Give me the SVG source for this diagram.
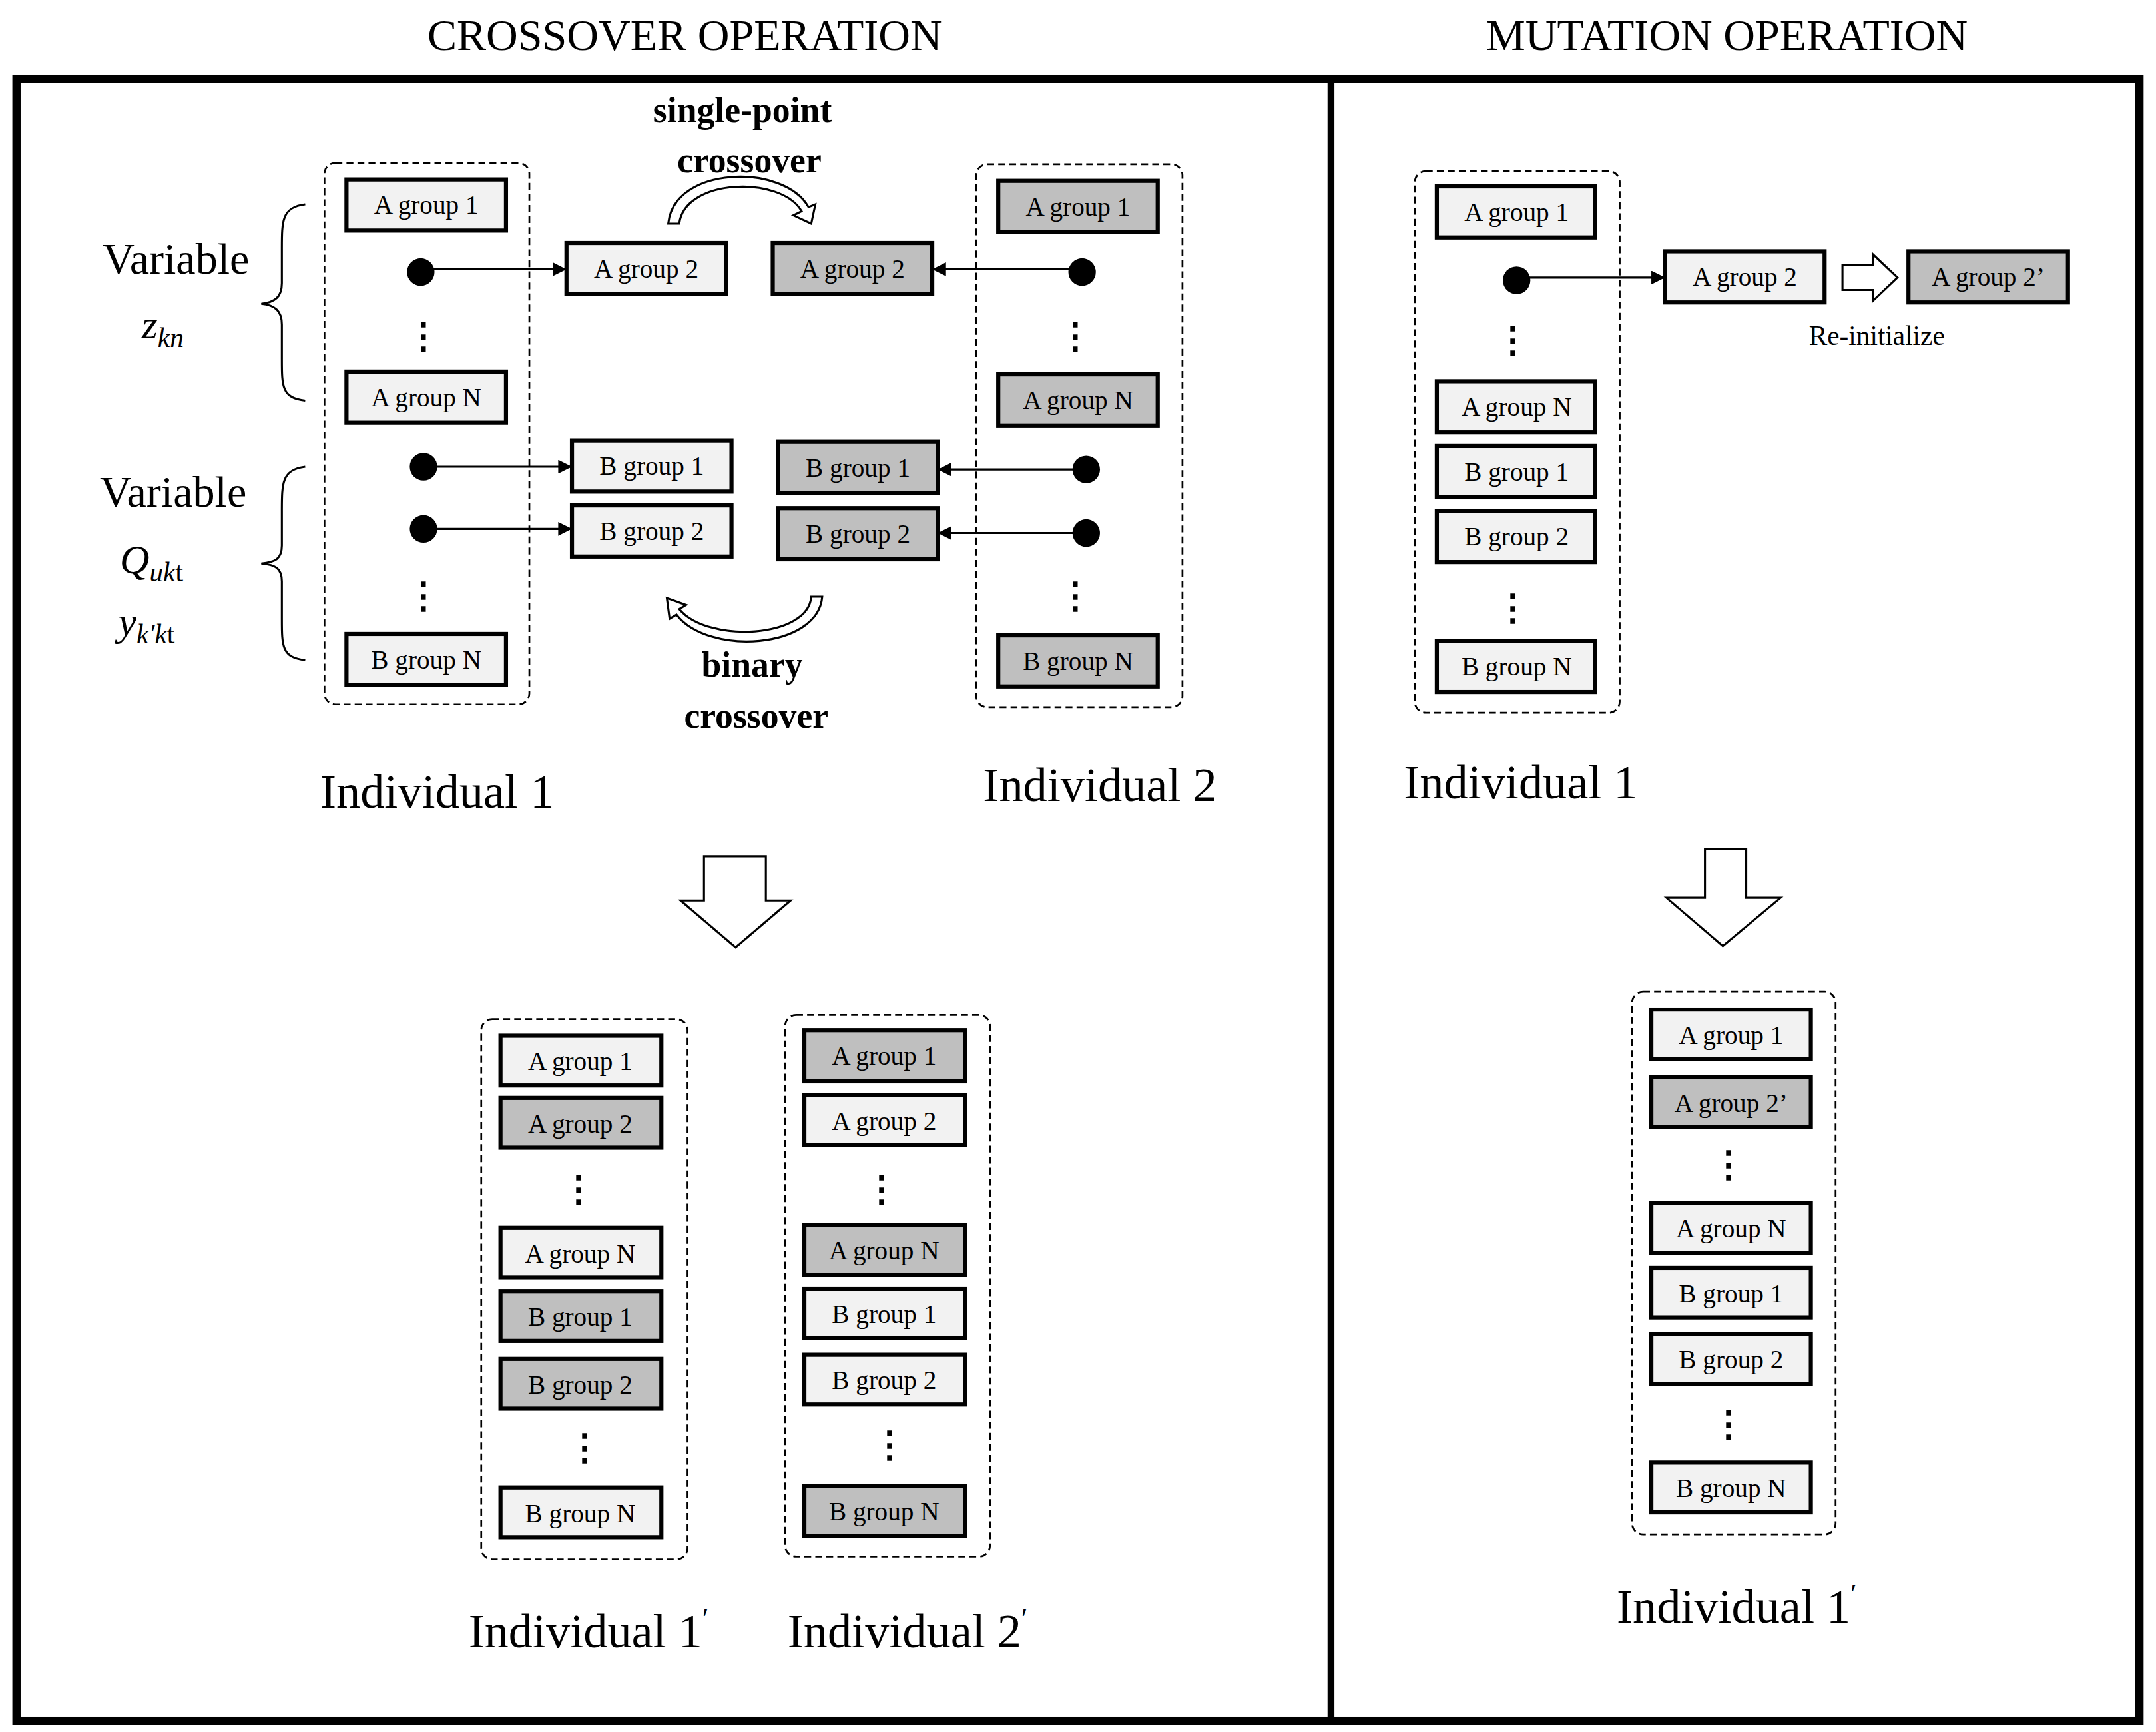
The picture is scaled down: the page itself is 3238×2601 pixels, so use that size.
<svg xmlns="http://www.w3.org/2000/svg" width="3238" height="2601" viewBox="0 0 3238 2601">
<defs>
<style>
text{font-family:"Liberation Serif","Times New Roman",serif;fill:#000}
.t{font-size:32px;text-anchor:middle}
.bt{font-size:19px;text-anchor:middle}
.b{font-size:26px;font-weight:bold;text-anchor:middle}
.ind{font-size:35px;text-anchor:middle}
.var{font-size:32px;text-anchor:middle}
.math{font-size:30px;font-style:italic}
.sub{font-size:20px;font-style:italic}
.l{fill:#f2f2f2;stroke:#000;stroke-width:3}
.d{fill:#bfbfbf;stroke:#000;stroke-width:3}
.dash{fill:none;stroke:#000;stroke-width:1.3;stroke-dasharray:5 3}
.c{stroke:#000;stroke-width:1.5;fill:none}
.hollow{fill:#fff;stroke:#000;stroke-width:1.5}
</style>
<marker id="ah" viewBox="0 0 10 10" refX="10" refY="5" markerWidth="10" markerHeight="10" markerUnits="userSpaceOnUse" orient="auto"><path d="M0,0L10,5L0,10z" fill="#000"/></marker>
</defs>
<rect width="3238" height="2601" fill="#fff"/>
<g transform="scale(2.065,2.074)">
<text class="t" x="498" y="36">CROSSOVER OPERATION</text>
<text class="t" x="1256" y="36">MUTATION OPERATION</text>
<rect x="12" y="57" width="1544" height="1189" fill="none" stroke="#000" stroke-width="6"/>
<line x1="968" y1="57" x2="968" y2="1246" stroke="#000" stroke-width="5"/>

<g id="labels">
<text class="var" x="128" y="198">Variable</text>
<text class="math" x="103" y="245">z<tspan class="sub" dy="6">kn</tspan></text>
<text class="var" x="126" y="367">Variable</text>
<text class="math" x="87" y="415">Q<tspan class="sub" dy="6">uk</tspan><tspan dy="0" style="font-style:normal;font-size:20px">t</tspan></text>
<text class="math" x="86" y="460">y<tspan class="sub" dy="6">k′</tspan><tspan style="font-style:italic;font-size:20px">k</tspan><tspan style="font-style:normal;font-size:20px">t</tspan></text>
<path class="c" stroke-width="2" d="M222,148 C205,150 205,160 205,180 L205,205 C205,215 200,219 190,220 C200,221 205,225 205,235 L205,260 C205,280 205,288 222,290"/>
<path class="c" stroke-width="2" d="M222,338 C205,340 205,350 205,370 L205,395 C205,405 200,407 190,408 C200,409 205,411 205,421 L205,448 C205,468 205,476 222,478"/>
<text class="b" x="540" y="88">single-point</text>
<text class="b" x="545" y="125">crossover</text>
<text class="b" x="547" y="490">binary</text>
<text class="b" x="550" y="527">crossover</text>
<text class="ind" x="318" y="585">Individual 1</text>
<text class="ind" x="800" y="580">Individual 2</text>
<text class="ind" x="428" y="1193">Individual 1<tspan font-size="20" dy="-14">ʹ</tspan></text>
<text class="ind" x="660" y="1193">Individual 2<tspan font-size="20" dy="-14">ʹ</tspan></text>
<text class="ind" x="1106" y="578">Individual 1</text>
<text class="ind" x="1263" y="1175">Individual 1<tspan font-size="20" dy="-14">ʹ</tspan></text>
<text x="1365" y="250" style="font-size:20px;text-anchor:middle">Re-initialize</text>
</g>

<g id="ind1">
<rect class="dash" x="236" y="118" width="149" height="392" rx="8"/>
<rect class="l" x="252" y="130" width="116" height="37"/><text class="bt" x="310" y="155">A group 1</text>
<rect class="l" x="252" y="269" width="116" height="37"/><text class="bt" x="310" y="294">A group N</text>
<rect class="l" x="252" y="459" width="116" height="37"/><text class="bt" x="310" y="484">B group N</text>
<text class="b" x="308" y="252">⋮</text><text class="b" x="308" y="440">⋮</text>
</g>
<g id="ind2">
<rect class="dash" x="710" y="119" width="150" height="393" rx="8"/>
<rect class="d" x="726" y="131" width="116" height="37"/><text class="bt" x="784" y="156">A group 1</text>
<rect class="d" x="726" y="271" width="116" height="37"/><text class="bt" x="784" y="296">A group N</text>
<rect class="d" x="726" y="460" width="116" height="37"/><text class="bt" x="784" y="485">B group N</text>
<text class="b" x="782" y="252">⋮</text><text class="b" x="782" y="440">⋮</text>
</g>
<g id="swap">
<rect class="l" x="412" y="176" width="116" height="37"/><text class="bt" x="470" y="201">A group 2</text>
<rect class="d" x="562" y="176" width="116" height="37"/><text class="bt" x="620" y="201">A group 2</text>
<rect class="l" x="416" y="319" width="116" height="37"/><text class="bt" x="474" y="344">B group 1</text>
<rect class="l" x="416" y="366" width="116" height="37"/><text class="bt" x="474" y="391">B group 2</text>
<rect class="d" x="566" y="320" width="116" height="37"/><text class="bt" x="624" y="345">B group 1</text>
<rect class="d" x="566" y="368" width="116" height="37"/><text class="bt" x="624" y="393">B group 2</text>
</g>
<g id="connectors">
<circle cx="306" cy="197" r="10"/><line class="c" x1="306" y1="195" x2="412" y2="195" marker-end="url(#ah)" stroke-width="1.5"/>
<circle cx="787" cy="197" r="10"/><line class="c" x1="787" y1="195" x2="678" y2="195" marker-end="url(#ah)"/>
<circle cx="308" cy="338" r="10"/><line class="c" x1="308" y1="338" x2="416" y2="338" marker-end="url(#ah)"/>
<circle cx="308" cy="383" r="10"/><line class="c" x1="308" y1="383" x2="416" y2="383" marker-end="url(#ah)"/>
<circle cx="790" cy="340" r="10"/><line class="c" x1="790" y1="340" x2="682" y2="340" marker-end="url(#ah)"/>
<circle cx="790" cy="386" r="10"/><line class="c" x1="790" y1="386" x2="682" y2="386" marker-end="url(#ah)"/>
<circle cx="1103" cy="203" r="10"/><line class="c" x1="1103" y1="201" x2="1211" y2="201" marker-end="url(#ah)"/>
<path class="hollow" d="M486,162 C490,120 570,118 588,150 L593,148 L590,162 L577,156 L583,153 C568,127 498,129 494,162 Z"/>
<path class="hollow" d="M598,432 C595,470 515,475 492,445 L487,448 L485,433 L499,438 L494,441 C515,466 588,462 590,432 Z"/>
<path class="hollow" d="M512,620 L557,620 L557,652 L575,652 L535,686 L495,652 L512,652 Z"/>
<path class="hollow" d="M1240,615 L1270,615 L1270,650 L1295,650 L1253,685 L1212,650 L1240,650 Z"/>
<path class="hollow" d="M1340,192 L1362,192 L1362,184 L1380,201 L1362,218 L1362,210 L1340,210 Z"/>
</g>
<g id="ind1p">
<rect class="dash" x="350" y="738" width="150" height="391" rx="8"/>
<rect class="l" x="364" y="750" width="117" height="36"/><text class="bt" x="422" y="775">A group 1</text>
<rect class="d" x="364" y="795" width="117" height="36"/><text class="bt" x="422" y="820">A group 2</text>
<text class="b" x="421" y="870">⋮</text>
<rect class="l" x="364" y="889" width="117" height="36"/><text class="bt" x="422" y="914">A group N</text>
<rect class="d" x="364" y="935" width="117" height="36"/><text class="bt" x="422" y="960">B group 1</text>
<rect class="d" x="364" y="984" width="117" height="36"/><text class="bt" x="422" y="1009">B group 2</text>
<text class="b" x="425" y="1057">⋮</text>
<rect class="l" x="364" y="1077" width="117" height="36"/><text class="bt" x="422" y="1102">B group N</text>
</g>
<g id="ind2p">
<rect class="dash" x="571" y="735" width="149" height="392" rx="8"/>
<rect class="d" x="585" y="746" width="117" height="37"/><text class="bt" x="643" y="771">A group 1</text>
<rect class="l" x="585" y="793" width="117" height="36"/><text class="bt" x="643" y="818">A group 2</text>
<text class="b" x="641" y="870">⋮</text>
<rect class="d" x="585" y="887" width="117" height="36"/><text class="bt" x="643" y="912">A group N</text>
<rect class="l" x="585" y="933" width="117" height="36"/><text class="bt" x="643" y="958">B group 1</text>
<rect class="l" x="585" y="981" width="117" height="36"/><text class="bt" x="643" y="1006">B group 2</text>
<text class="b" x="647" y="1055">⋮</text>
<rect class="d" x="585" y="1076" width="117" height="36"/><text class="bt" x="643" y="1101">B group N</text>
</g>
<g id="mut1">
<rect class="dash" x="1029" y="124" width="149" height="392" rx="8"/>
<rect class="l" x="1045" y="135" width="115" height="37"/><text class="bt" x="1103" y="160">A group 1</text>
<text class="b" x="1100" y="255">⋮</text>
<rect class="l" x="1045" y="276" width="115" height="37"/><text class="bt" x="1103" y="301">A group N</text>
<rect class="l" x="1045" y="323" width="115" height="37"/><text class="bt" x="1103" y="348">B group 1</text>
<rect class="l" x="1045" y="370" width="115" height="37"/><text class="bt" x="1103" y="395">B group 2</text>
<text class="b" x="1100" y="449">⋮</text>
<rect class="l" x="1045" y="464" width="115" height="37"/><text class="bt" x="1103" y="489">B group N</text>
</g>
<g id="mutA">
<rect class="l" x="1211" y="182" width="116" height="37"/><text class="bt" x="1269" y="207">A group 2</text>
<rect class="d" x="1388" y="182" width="116" height="37"/><text class="bt" x="1446" y="207">A group 2’</text>
</g>
<g id="mut1p">
<rect class="dash" x="1187" y="718" width="148" height="393" rx="8"/>
<rect class="l" x="1201" y="731" width="116" height="36"/><text class="bt" x="1259" y="756">A group 1</text>
<rect class="d" x="1201" y="780" width="116" height="36"/><text class="bt" x="1259" y="805">A group 2’</text>
<text class="b" x="1257" y="852">⋮</text>
<rect class="l" x="1201" y="871" width="116" height="36"/><text class="bt" x="1259" y="896">A group N</text>
<rect class="l" x="1201" y="918" width="116" height="36"/><text class="bt" x="1259" y="943">B group 1</text>
<rect class="l" x="1201" y="966" width="116" height="36"/><text class="bt" x="1259" y="991">B group 2</text>
<text class="b" x="1257" y="1040">⋮</text>
<rect class="l" x="1201" y="1059" width="116" height="36"/><text class="bt" x="1259" y="1084">B group N</text>
</g>
</g>
</svg>
